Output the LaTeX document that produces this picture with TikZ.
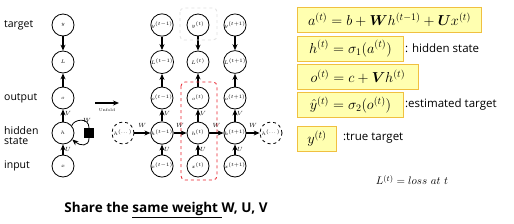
\documentclass[tikz,border=0pt]{standalone}
\usepackage{amsmath,amssymb,bm}
\usepackage{fontspec}
\usetikzlibrary{arrows.meta,positioning}
\newfontfamily\labelfont{Open Sans}
\definecolor{boxfill}{HTML}{FFFFB0}
\definecolor{boxedge}{HTML}{F0C040}
\definecolor{unitred}{HTML}{E8202A}
\tikzset{
 unit/.style={circle,draw,line width=0.8pt,minimum size=22pt,inner sep=0pt,font=\fontsize{5}{6}\selectfont},
 ghost/.style={unit,dashed},
 flow/.style={->,line width=1.1pt},
 wt/.style={font=\fontsize{6}{7}\selectfont,inner sep=1.5pt},
 eqbox/.style={draw=boxedge,fill=boxfill,line width=0.9pt,anchor=west,minimum height=25pt,inner sep=0pt,font=\fontsize{14}{16}\selectfont},
 side/.style={anchor=west,inner sep=1pt,font=\labelfont\fontsize{10.5}{13}\selectfont}
}
\begin{document}
\begin{tikzpicture}[x=1pt,y=-1pt,>={Stealth[length=6pt,width=5pt]}]
\useasboundingbox (0,0) rectangle (514,223);
% folded network
\node[side] (tgt) at (3,25) {target};
\node[side] (out) at (3,98) {output};
\node[side,align=left] (hid) at (3,136) {hidden\\[-3pt]state};
\node[side] (inp) at (3,166) {input};
\node[unit] (y) at (63,25) {$y$};
\node[unit] (L) at (63,62) {$L$};
\node[unit] (o) at (63,98) {$o$};
\node[unit] (h) at (63,133) {$h$};
\node[unit] (x) at (63,166) {$x$};
\draw[flow] (y) -- (L);
\draw[flow] (o) -- (L);
\draw[flow] (h) -- node[pos=.7,right,wt]{$V$} (o);
\draw[flow] (x) -- node[right,wt]{$U$} (h);
\node[fill,minimum size=10pt,inner sep=0pt] (delay) at (89,133) {};
\draw[line width=0.8pt] (h.40) .. controls (74,119) and (89,117) .. (delay.north);
\draw[flow,line width=0.8pt] (delay.south) .. controls (89,147) and (80,146) .. (h.-35);
\node[wt] (wloop) at (87,120) {$W$};
% unfold
\coordinate (u1) at (95,103);
\coordinate (u2) at (119,103);
\draw[flow] (u1) -- node[below=2pt,font=\fontsize{4}{5}\selectfont]{Unfold} (u2);
% unfolded network
\foreach \c/\t/\n in {162/t-1/a,198/t/b,235/t+1/c} {
 \node[unit] (y\n) at (\c,25) {$y^{(\t)}$};
 \node[unit] (L\n) at (\c,62) {$L^{(\t)}$};
 \node[unit] (o\n) at (\c,98) {$o^{(\t)}$};
 \node[unit] (h\n) at (\c,133) {$h^{(\t)}$};
 \node[unit] (x\n) at (\c,166) {$x^{(\t)}$};
 \draw[flow] (y\n) -- (L\n);
 \draw[flow] (o\n) -- (L\n);
 \draw[flow] (h\n) -- node[pos=.7,right,wt]{$V$} (o\n);
 \draw[flow] (x\n) -- node[right,wt]{$U$} (h\n);
}
\node[ghost] (hl) at (123,133) {$h^{(\dots)}$};
\node[ghost] (hr) at (271,133) {$h^{(\dots)}$};
\foreach \a/\b in {hl/ha,ha/hb,hb/hc,hc/hr}
 \draw[flow] (\a) -- node[above=3pt,wt]{$W$} (\b);
\draw[gray!25,dashed,line width=0.8pt,rounded corners=4pt] (180,8) rectangle (217,40);
\draw[unitred,dashed,line width=0.8pt,rounded corners=4pt] (181,82) rectangle (217,180);
% equations
\node[eqbox,minimum width=184pt] (ea) at (297,19.5) {$a^{(t)} = b + \bm{W}h^{(t-1)} + \bm{U}x^{(t)}$};
\node[eqbox,minimum width=106pt] (eh) at (297,48.5) {$h^{(t)} = \sigma_1(a^{(t)})$};
\node[side,font=\labelfont\fontsize{11.5}{13}\selectfont] (ehl) at (eh.east) {: hidden state};
\node[eqbox,minimum width=121pt] (eo) at (297,76.5) {$o^{(t)} = c + \bm{V}h^{(t)}$};
\node[eqbox,minimum width=106pt] (ey) at (297,105) {$\hat{y}^{(t)} = \sigma_2(o^{(t)})$};
\node[side,font=\labelfont\fontsize{11.5}{13}\selectfont] (eyl) at (ey.east) {:estimated target};
\node[eqbox,minimum width=39pt] (et) at (297,138.5) {$y^{(t)}$};
\node[side,font=\labelfont\fontsize{11.5}{13}\selectfont] (etl) at ([xshift=5pt]et.east) {:true target};
\node[font=\fontsize{11}{13}\selectfont] (loss) at (412,180) {$L^{(t)} = loss\ at\ t$};
\node[font=\labelfont\bfseries\fontsize{13.5}{16}\selectfont] (share) at (166,210) {Share the \underline{same weight }W, U, V};
\end{tikzpicture}
\end{document}
